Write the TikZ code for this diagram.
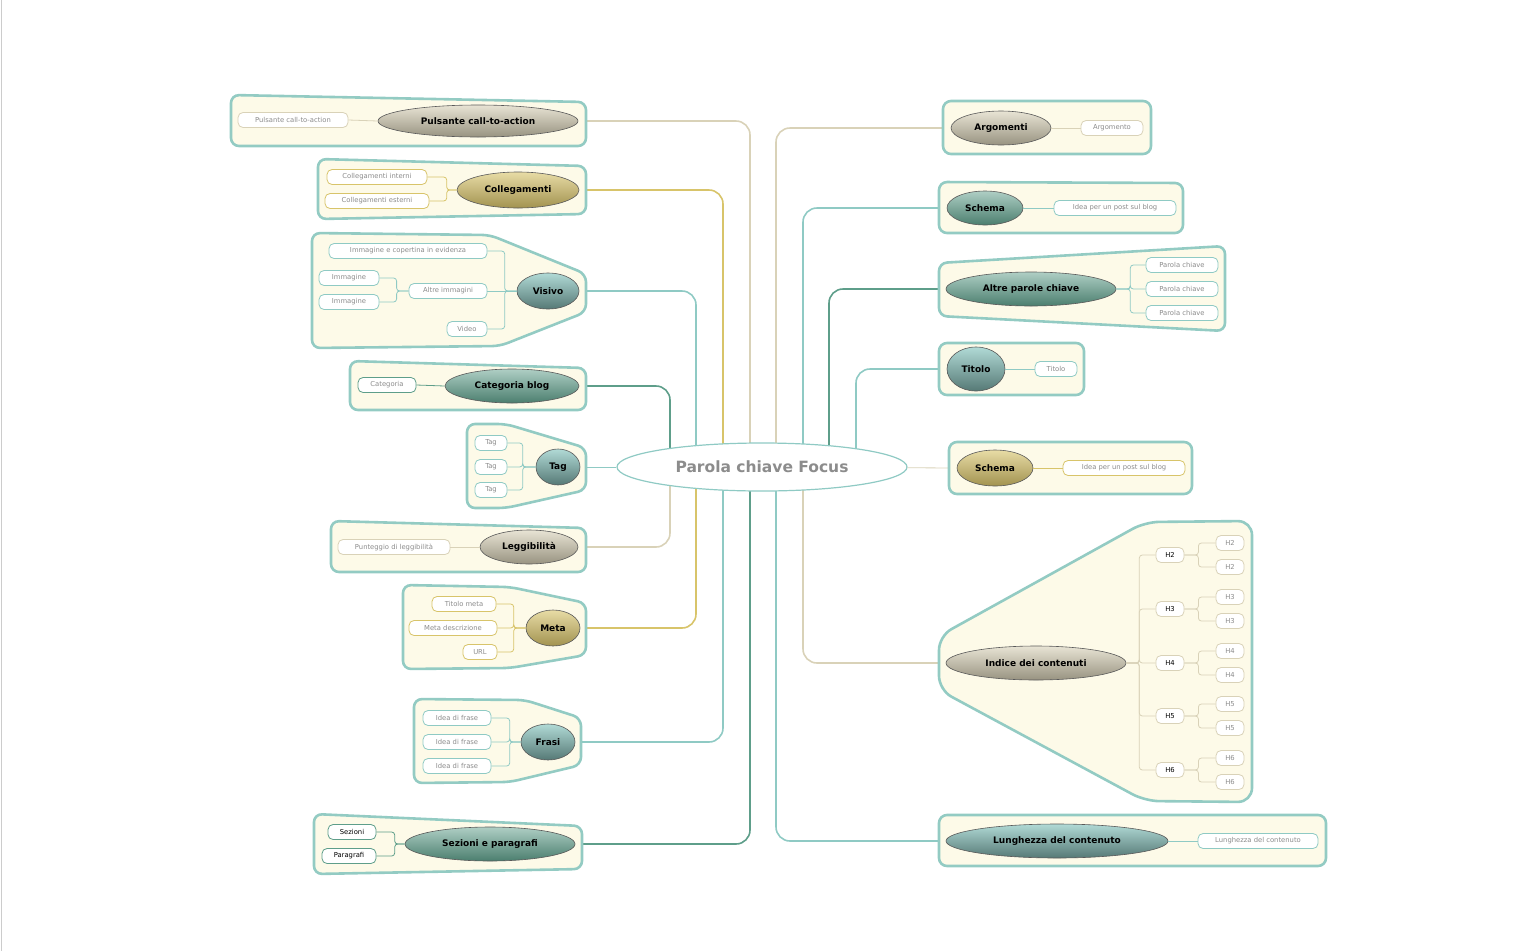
\documentclass[tikz,border=0pt]{standalone}
\usepackage{fontspec}
\setmainfont{DejaVu Sans}
\usetikzlibrary{calc,shapes.geometric}
\pgfdeclarelayer{conn}\pgfdeclarelayer{frm}
\pgfsetlayers{conn,frm,main}
\definecolor{fr}{HTML}{93CBC3}
\definecolor{frfill}{HTML}{FDFAE8}
\definecolor{ctan}{HTML}{D9D2B8}
\definecolor{cgold}{HTML}{D8C46A}
\definecolor{cteal}{HTML}{8FCAC4}
\definecolor{cdark}{HTML}{5E9E8A}
\tikzset{
 main/.style={ellipse,draw=black!65,line width=0.6pt,inner sep=0pt,font=\fontsize{9}{10}\selectfont\bfseries},
 tan/.style={main,top color=ctan!60!white,bottom color=ctan!70!black},
 gold/.style={main,top color=cgold!60!white,bottom color=cgold!75!black},
 teal/.style={main,top color=cteal!70!white,bottom color=cteal!60!black},
 dark/.style={main,top color=cdark!50!white,bottom color=cdark!80!black},
 kid/.style={rounded corners=5pt,draw,fill=white,line width=0.8pt,minimum height=15pt,inner sep=1pt,text=black!45,font=\fontsize{6.8}{7}\selectfont},
 frame/.style={draw=fr,fill=frfill,line width=2.6pt,rounded corners=8pt},
 br/.style={line width=0.8pt,rounded corners=3pt},
}
\begin{document}
\begin{tikzpicture}[x=1pt,y=-1pt]
\useasboundingbox (0,0) rectangle (1536,951);
\draw[black!20,line width=1pt] (1,0) -- (1,951);
% center
\node[ellipse,draw=cteal,line width=1.2pt,fill=white,minimum width=290pt,minimum height=48pt,text=black!45,font=\fontsize{15.5}{16}\selectfont\bfseries] (c) at (762,467) {Parola chiave Focus};
% main nodes left
\node[tan,minimum width=200pt,minimum height=32pt] (pul) at (478,121) {Pulsante call-to-action};
\node[gold,minimum width=122pt,minimum height=36pt] (col) at (518,190) {Collegamenti};
\node[teal,minimum width=62pt,minimum height=36pt] (vis) at (548,291) {Visivo};
\node[dark,minimum width=134pt,minimum height=34pt] (cat) at (512,386) {Categoria blog};
\node[teal,minimum width=44pt,minimum height=36pt] (tag) at (558,467) {Tag};
\node[tan,minimum width=98pt,minimum height=34pt] (leg) at (529,547) {Leggibilità};
\node[gold,minimum width=54pt,minimum height=36pt] (met) at (553,628) {Meta};
\node[teal,minimum width=54pt,minimum height=36pt] (fra) at (548,742) {Frasi};
\node[dark,minimum width=170pt,minimum height=34pt] (sez) at (490,844) {Sezioni e paragrafi};
% right
\node[tan,minimum width=100pt,minimum height=34pt] (arg) at (1001,128) {Argomenti};
\node[dark,minimum width=76pt,minimum height=34pt] (sch) at (985,208) {Schema};
\node[dark,minimum width=170pt,minimum height=34pt] (alt) at (1031,289) {Altre parole chiave};
\node[teal,minimum width=58pt,minimum height=44pt] (tit) at (976,369) {Titolo};
\node[gold,minimum width=76pt,minimum height=36pt] (sch2) at (995,468) {Schema};
\node[tan,minimum width=180pt,minimum height=34pt] (ind) at (1036,663) {Indice dei contenuti};
\node[teal,minimum width=222pt,minimum height=34pt] (lun) at (1057,841) {Lunghezza del contenuto};
% children
\node[kid,draw=ctan,minimum width=110pt] (k1) at (293,120) {Pulsante call-to-action};
\node[kid,draw=cgold,minimum width=100pt] (k2a) at (377,177) {Collegamenti interni};
\node[kid,draw=cgold,minimum width=104pt] (k2b) at (377,201) {Collegamenti esterni};
\node[kid,draw=cteal,minimum width=158pt] (k3a) at (408,251) {Immagine e copertina in evidenza};
\node[kid,draw=cteal,minimum width=78pt] (k3b) at (448,291) {Altre immagini};
\node[kid,draw=cteal,minimum width=40pt] (k3c) at (467,329) {Video};
\node[kid,draw=cteal,minimum width=60pt] (k3d) at (349,278) {Immagine};
\node[kid,draw=cteal,minimum width=60pt] (k3e) at (349,302) {Immagine};
\node[kid,draw=cdark,minimum width=58pt] (k4) at (387,385) {Categoria};
\node[kid,draw=cteal,minimum width=32pt] (k5a) at (491,443) {Tag};
\node[kid,draw=cteal,minimum width=32pt] (k5b) at (491,467) {Tag};
\node[kid,draw=cteal,minimum width=32pt] (k5c) at (491,490) {Tag};
\node[kid,draw=ctan,minimum width=112pt] (k6) at (394,547) {Punteggio di leggibilità};
\node[kid,draw=cgold,minimum width=64pt] (k7a) at (464,604) {Titolo meta};
\node[kid,draw=cgold,minimum width=88pt] (k7b) at (453,628) {Meta descrizione};
\node[kid,draw=cgold,minimum width=34pt] (k7c) at (480,652) {URL};
\node[kid,draw=cteal,minimum width=68pt] (k8a) at (457,718) {Idea di frase};
\node[kid,draw=cteal,minimum width=68pt] (k8b) at (457,742) {Idea di frase};
\node[kid,draw=cteal,minimum width=68pt] (k8c) at (457,766) {Idea di frase};
\node[kid,draw=cdark,text=black,minimum width=48pt] (k9a) at (352,832) {Sezioni};
\node[kid,draw=cdark,text=black,minimum width=54pt] (k9b) at (349,856) {Paragrafi};
\node[kid,draw=ctan,minimum width=62pt] (r1) at (1112,128) {Argomento};
\node[kid,draw=cteal,minimum width=122pt] (r2) at (1115,208) {Idea per un post sul blog};
\node[kid,draw=cteal,minimum width=72pt] (r3a) at (1182,265) {Parola chiave};
\node[kid,draw=cteal,minimum width=72pt] (r3b) at (1182,289) {Parola chiave};
\node[kid,draw=cteal,minimum width=72pt] (r3c) at (1182,313) {Parola chiave};
\node[kid,draw=cteal,minimum width=42pt] (r4) at (1056,369) {Titolo};
\node[kid,draw=cgold,minimum width=122pt] (r5) at (1124,468) {Idea per un post sul blog};
\foreach \i/\y in {2/555,3/609,4/663,5/716,6/770}{
 \node[kid,draw=ctan,text=black,minimum width=28pt] (h\i) at (1170,\y) {H\i};
 \node[kid,draw=ctan,minimum width=28pt] (h\i a) at (1230,\y-12) {H\i};
 \node[kid,draw=ctan,minimum width=28pt] (h\i b) at (1230,\y+12) {H\i};
}
\node[kid,draw=cteal,minimum width=120pt] (r7) at (1258,841) {Lunghezza del contenuto};
% frames
\begin{pgfonlayer}{frm}
\draw[frame] (231,95)--(586,102)--(586,146)--(231,146)--cycle;
\draw[frame] (318,159)--(586,166)--(586,214)--(318,219)--cycle;
\draw[frame] (312,233)--(490,235)--(586,274)--(586,312)--(500,346)--(312,348)--cycle;
\draw[frame] (350,361)--(586,368)--(586,410)--(350,410)--cycle;
\draw[frame] (467,424)--(506,424)--(586,448)--(586,490)--(506,508)--(467,508)--cycle;
\draw[frame] (331,521)--(586,528)--(586,572)--(331,572)--cycle;
\draw[frame] (403,585)--(510,587)--(586,603)--(586,655)--(510,668)--(403,669)--cycle;
\draw[frame] (414,699)--(525,700)--(581,718)--(581,765)--(510,782)--(414,783)--cycle;
\draw[frame] (314,814)--(582,826)--(582,869)--(314,874)--cycle;
\draw[frame] (943,101)--(1151,101)--(1151,154)--(943,154)--cycle;
\draw[frame] (939,182)--(1183,183)--(1183,233)--(939,233)--cycle;
\draw[frame] (939,263)--(1225,246)--(1225,331)--(939,316)--cycle;
\draw[frame] (939,343)--(1084,343)--(1084,395)--(939,395)--cycle;
\draw[frame] (949,442)--(1192,442)--(1192,494)--(949,494)--cycle;
\draw[frame,rounded corners=14pt] (939,636)--(1145,522)--(1252,521)--(1252,802)--(1145,801)--(939,690)--cycle;
\draw[frame] (939,815)--(1326,815)--(1326,866)--(939,866)--cycle;
\end{pgfonlayer}
% connectors
\begin{pgfonlayer}{conn}
\tikzset{tr/.style={line width=1.6pt,rounded corners=14pt}}
\draw[tr,ctan] ($(c.center)+(-12,0)$) |- (pul.east);
\draw[tr,cgold] ($(c.center)+(-39,0)$) |- (col.east);
\draw[tr,cteal] ($(c.center)+(-66,0)$) |- (vis.east);
\draw[tr,cdark] ($(c.center)+(-92,0)$) |- (cat.east);
\draw[tr,cteal,line width=0.8pt] (c) -- (tag.east);
\draw[tr,ctan] ($(c.center)+(-92,0)$) |- (leg.east);
\draw[tr,cgold] ($(c.center)+(-66,0)$) |- (met.east);
\draw[tr,cteal] ($(c.center)+(-39,0)$) |- (fra.east);
\draw[tr,cdark] ($(c.center)+(-12,0)$) |- (sez.east);
\draw[tr,ctan] ($(c.center)+(14,0)$) |- (arg.west);
\draw[tr,cteal] ($(c.center)+(41,0)$) |- (sch.west);
\draw[tr,cdark] ($(c.center)+(67,0)$) |- (alt.west);
\draw[tr,cteal] ($(c.center)+(94,0)$) |- (tit.west);
\draw[tr,ctan,line width=0.8pt] (c) -- (sch2.west);
\draw[tr,ctan] ($(c.center)+(41,0)$) |- (ind.west);
\draw[tr,cteal] ($(c.center)+(14,0)$) |- (lun.west);
\end{pgfonlayer}
% child connectors
\draw[br,ctan] (pul.west) -- (k1.east);
\draw[br,cgold] (col.west) -- ++(-10,0) |- (k2a.east);
\draw[br,cgold] (col.west) -- ++(-10,0) |- (k2b.east);
\draw[br,cteal] (vis.west) -- ++(-12,0) |- (k3a.east);
\draw[br,cteal] (vis.west) -- (k3b.east);
\draw[br,cteal] (vis.west) -- ++(-12,0) |- (k3c.east);
\draw[br,cteal] (k3b.west) -- ++(-12,0) |- (k3d.east);
\draw[br,cteal] (k3b.west) -- ++(-12,0) |- (k3e.east);
\draw[br,cdark] (cat.west) -- (k4.east);
\foreach \k in {k5a,k5b,k5c} \draw[br,cteal] (tag.west) -- ++(-13,0) |- (\k.east);
\draw[br,ctan] (leg.west) -- (k6.east);
\foreach \k in {k7a,k7b,k7c} \draw[br,cgold] (met.west) -- ++(-12,0) |- (\k.east);
\foreach \k in {k8a,k8b,k8c} \draw[br,cteal] (fra.west) -- ++(-11,0) |- (\k.east);
\foreach \k in {k9a,k9b} \draw[br,cdark] (sez.west) -- ++(-10,0) |- (\k.east);
\draw[br,ctan] (arg.east) -- (r1.west);
\draw[br,cteal] (sch.east) -- (r2.west);
\foreach \k in {r3a,r3b,r3c} \draw[br,cteal] (alt.east) -- ++(14,0) |- (\k.west);
\draw[br,cteal] (tit.east) -- (r4.west);
\draw[br,cgold] (sch2.east) -- (r5.west);
\foreach \i in {2,...,6}{
 \draw[br,ctan] (ind.east) -- ++(13,0) |- (h\i.west);
 \draw[br,ctan] (h\i.east) -- ++(14,0) |- (h\i a.west);
 \draw[br,ctan] (h\i.east) -- ++(14,0) |- (h\i b.west);
}
\draw[br,cteal] (lun.east) -- (r7.west);
\end{tikzpicture}
\end{document}
